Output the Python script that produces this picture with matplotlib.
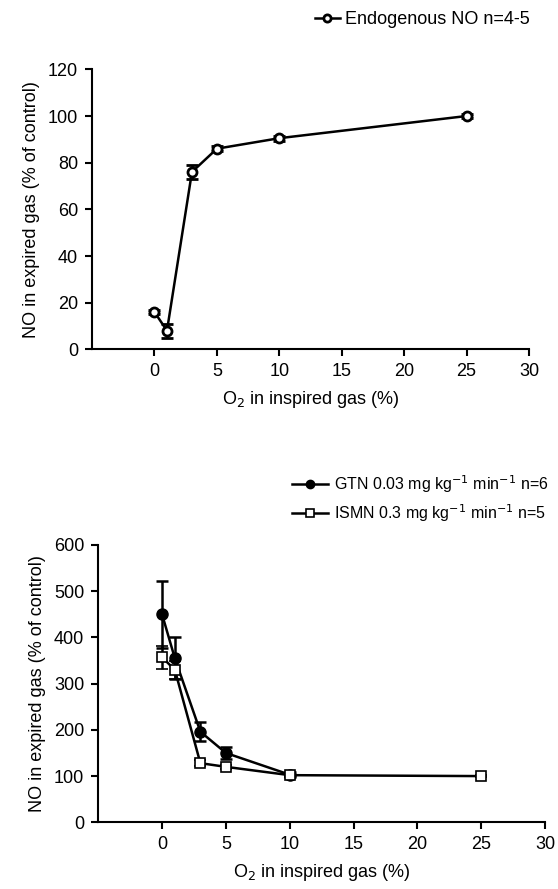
import matplotlib
matplotlib.use('Agg')
import matplotlib.pyplot as plt

plt.rcParams['font.family'] = ['Liberation Sans', 'DejaVu Sans']
plt.rcParams['font.size'] = 13

# top panel: endogenous NO
o2_endo = [0, 1, 3, 5, 10, 25]
no_endo = [16, 8, 76, 86, 90.5, 100]
err_endo = [1, 3, 3, 1, 1, 1]

# bottom panel: GTN and ISMN
o2_gtn = [0, 1, 3, 5, 10]
no_gtn = [450, 355, 196, 150, 103]
err_gtn = [73, 45, 20, 12, 5]

o2_ismn = [0, 1, 3, 5, 10, 25]
no_ismn = [357, 330, 128, 120, 102, 100]
err_ismn = [25, 20, 6, 5, 4, 3]

fig = plt.figure(figsize=(5.58, 8.89), dpi=100)
ax1 = fig.add_axes([0.165, 0.607, 0.783, 0.315])
ax2 = fig.add_axes([0.176, 0.075, 0.801, 0.312])


def style(ax):
    for s in ['top', 'right']:
        ax.spines[s].set_visible(False)
    ax.spines['left'].set_linewidth(1.5)
    ax.spines['bottom'].set_linewidth(1.5)
    ax.tick_params(direction='out', width=1.5, length=5, labelsize=13, pad=5)
    ax.set_xlim(-5, 30)
    ax.set_xticks([0, 5, 10, 15, 20, 25, 30])
    ax.set_xlabel('O$_2$ in inspired gas (%)', fontsize=13, labelpad=6)
    ax.set_ylabel('NO in expired gas (% of control)', fontsize=13, labelpad=6)


e1 = ax1.errorbar(o2_endo, no_endo, yerr=err_endo, color='black', lw=1.8,
                  marker='o', ms=6.5, mfc='white', mec='black', mew=2,
                  capsize=4, elinewidth=1.8, capthick=1.8)
ax1.set_ylim(0, 120)
ax1.set_yticks(range(0, 121, 20))
style(ax1)
ax1.legend([e1[0]], ['Endogenous NO n=4-5'], loc='upper right',
           bbox_to_anchor=(1.04, 1.265), frameon=False,
           fontsize=13, handlelength=1.4, handletextpad=0.3,
           markerscale=0.8)

e2 = ax2.errorbar(o2_gtn, no_gtn, yerr=err_gtn, color='black', lw=1.8,
                  marker='o', ms=8, mfc='black', mec='black',
                  capsize=4, elinewidth=1.8, capthick=1.8)
e3 = ax2.errorbar(o2_ismn, no_ismn, yerr=err_ismn, color='black', lw=1.8,
                  marker='s', ms=7, mfc='white', mec='black', mew=1.2,
                  capsize=4, elinewidth=1.8, capthick=1.8)
ax2.set_ylim(0, 600)
ax2.set_yticks(range(0, 601, 100))
style(ax2)
ax2.legend([e2[0], e3[0]],
           ['GTN 0.03 mg kg$^{-1}$ min$^{-1}$ n=6',
            'ISMN 0.3 mg kg$^{-1}$ min$^{-1}$ n=5'],
           loc='upper right', bbox_to_anchor=(1.04, 1.31), frameon=False,
           fontsize=11.5, handlelength=2.2, handletextpad=0.4,
           labelspacing=0.45, markerscale=0.75)

fig.savefig('out.png', dpi=100)
